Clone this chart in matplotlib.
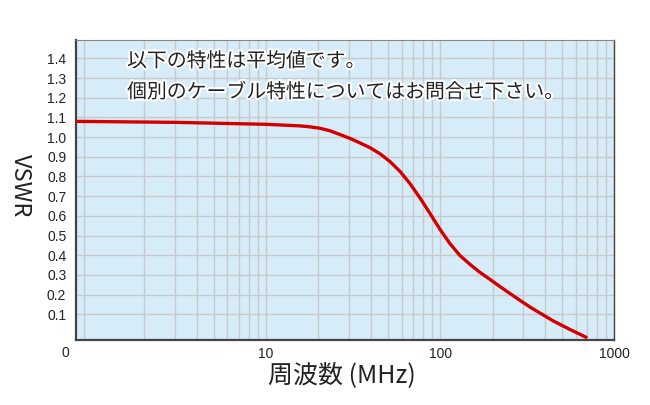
import matplotlib
matplotlib.use("Agg")
import matplotlib.pyplot as plt
import matplotlib.patheffects as pe
from matplotlib.ticker import LogLocator, NullFormatter

# --- Data ---
freq_mhz = [0.81, 3, 10, 15.7, 17.9, 20.4, 23.3, 26.6, 30.4, 34.7, 39.6, 45.2,
            51.6, 58.9, 67.3, 76.7, 87.7, 100, 114, 130, 149, 169, 194, 221,
            252, 288, 329, 376, 446, 558, 700]
vswr = [1.08, 1.075, 1.065, 1.057, 1.052, 1.045, 1.032, 1.013, 0.993, 0.970, 0.946, 0.915,
        0.875, 0.825, 0.762, 0.69, 0.61, 0.53, 0.458, 0.398, 0.352, 0.313, 0.276, 0.24,
        0.205, 0.17, 0.136, 0.105, 0.066, 0.022, -0.02]

x_ticks = [10, 100, 1000]
x_tick_labels = ["10", "100", "1000"]
y_ticks = [0.1, 0.2, 0.3, 0.4, 0.5, 0.6, 0.7, 0.8, 0.9, 1.0, 1.1, 1.2, 1.3, 1.4]
note_lines = ["以下の特性は平均値です。", "個別のケーブル特性についてはお問合せ下さい。"]

# --- Style ---
JP = ['Noto Sans CJK JP', 'DejaVu Sans']
NUM = ['Liberation Sans', 'DejaVu Sans']
BG = '#d6edf9'
GRID = '#c9c9c9'
RED = '#d40000'
TXT = '#222222'

fig = plt.figure(figsize=(6.5, 4.05), dpi=100)
ax = fig.add_axes([0.117, 0.160, 0.828, 0.742])
ax.set_facecolor(BG)

ax.plot(freq_mhz, vswr, color=RED, lw=2.4, solid_joinstyle='round',
        solid_capstyle='butt', zorder=3)

ax.set_xscale('log')
ax.set_xlim(0.81, 1000)
ax.set_ylim(-0.032, 1.495)

ax.set_xticks(x_ticks)
ax.set_xticklabels(x_tick_labels, family=NUM, fontsize=10, color=TXT)
ax.xaxis.set_minor_locator(LogLocator(base=10, subs=range(2, 10)))
ax.xaxis.set_minor_formatter(NullFormatter())
ax.set_yticks(y_ticks)
ax.set_yticklabels([f"{v:.1f}" for v in y_ticks], family=NUM, fontsize=10, color=TXT)
ax.tick_params(which='both', length=0)
ax.tick_params(axis='x', pad=5)
ax.tick_params(axis='y', pad=7)

ax.grid(True, which='both', axis='x', color=GRID, lw=1.0, zorder=1)
ax.grid(True, which='major', axis='y', color=GRID, lw=1.0, zorder=1)
ax.axhline(1.5, color=GRID, lw=1.0, zorder=1)

# "0" label at the left end of the frequency axis
fig.text(65 / 650, 1 - 353 / 405, "0", family=NUM, fontsize=10, color=TXT,
         ha='center', va='center')

for side in ['left', 'bottom']:
    ax.spines[side].set_color('#444444')
    ax.spines[side].set_linewidth(1.6)
ax.spines['right'].set_color('#444444')
ax.spines['right'].set_linewidth(1.0)
ax.spines['top'].set_color('#888888')
ax.spines['top'].set_linewidth(0.8)

fig.text(20 / 650, 1 - 186 / 405, "VSWR", family=JP, fontsize=17, rotation=-90,
         color=TXT, ha='center', va='center')
fig.text(342 / 650, 1 - 375 / 405, "周波数 (MHz)", family=JP, fontsize=18,
         color=TXT, ha='center', va='center')

outline = [pe.withStroke(linewidth=3, foreground='white')]
for i, line in enumerate(note_lines):
    ax.text(0.0948, 0.928 - i * 0.103, line, transform=ax.transAxes, family=JP,
            fontsize=14.3, color=TXT, ha='left', va='center',
            path_effects=outline, zorder=4)

fig.savefig("out.png", dpi=100)
